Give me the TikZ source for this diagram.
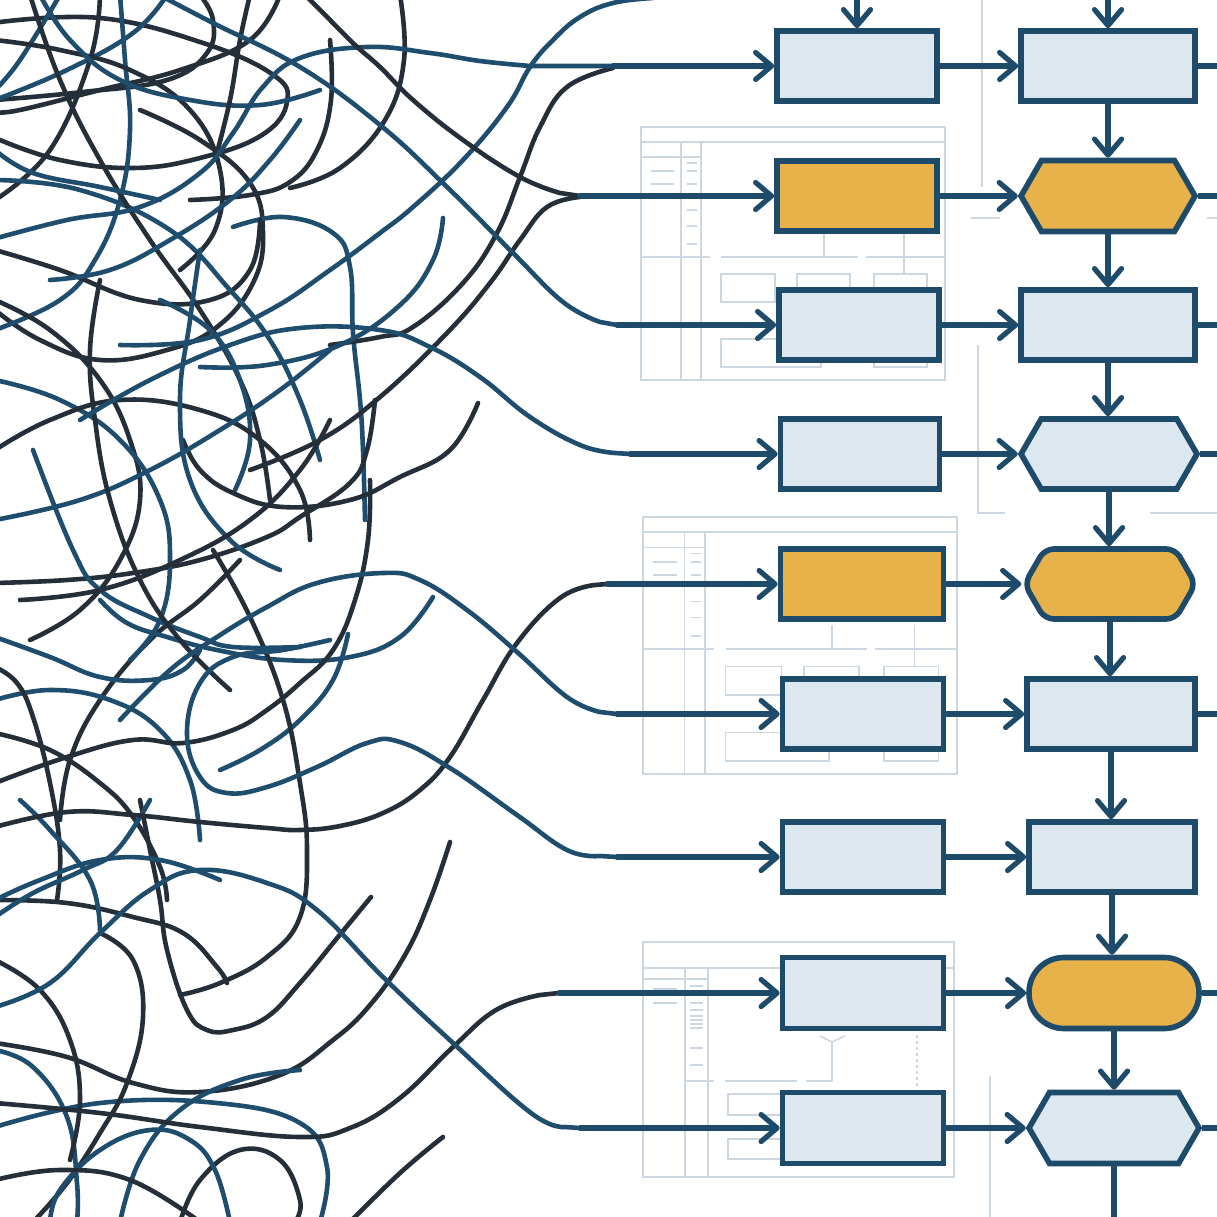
\documentclass[tikz,border=0pt]{standalone}
\usetikzlibrary{arrows.meta,shapes.symbols,shapes.misc}
\definecolor{navy}{HTML}{1F4B6A}
\definecolor{boxfill}{HTML}{DDE7F0}
\definecolor{gold}{HTML}{E8B24B}
\definecolor{tdark}{HTML}{252F39}
\definecolor{tblue}{HTML}{1F4D6D}
\definecolor{gridc}{HTML}{CCD7E1}
\tikzset{
 dk/.style={draw=tdark,line width=4.6pt,line cap=round,line join=round},
 nv/.style={draw=tblue,line width=4.6pt,line cap=round,line join=round},
 arr/.style={draw=navy,line width=5.2pt,line cap=round,-{Straight Barb[length=16pt,width=27pt,round]}},
 flow/.style={draw=navy,line width=5.2pt},
 lbox/.style={rectangle,draw=navy,line width=5.6pt,fill=boxfill,minimum width=160pt,minimum height=70pt,inner sep=0pt},
 obox/.style={lbox,fill=gold},
 hexa/.style={signal,signal to=east and west,signal pointer angle=120,draw=navy,line width=5.6pt,fill=boxfill,minimum width=174pt,minimum height=70pt,inner sep=0pt},
 gridl/.style={draw=gridc,line width=1.6pt},
}
\newcommand\tdk[1]{\draw[dk] plot[smooth,tension=.7] coordinates {#1};}
\newcommand\tnv[1]{\draw[nv] plot[smooth,tension=.7] coordinates {#1};}
\newcommand\formgridA{%
 \draw[gridl] (0,0) rectangle (304,253);
 \draw[gridl] (0,15) -- (304,15) (40,15) -- (40,253) (60,15) -- (60,253) (0,30) -- (60,30);
 \draw[gridl] (0,130) -- (69,130) (80,130) -- (217,130) (225,130) -- (304,130);
 \foreach \yy in {44,57} \draw[gridl] (10,\yy) -- (33,\yy);
 \foreach \yy in {36,44,57,83,99,117} \draw[gridl] (46,\yy) -- (56,\yy);
 \draw[gridl] (80,147) rectangle (134,175) (156,147) rectangle (209,175) (233,147) rectangle (286,175);
 \draw[gridl] (80,212) rectangle (180,240) (233,218) rectangle (286,240);
 \draw[gridl] (183,106) -- (183,130) (263,106) -- (263,147);
}
\begin{document}
\begin{tikzpicture}[x=1pt,y=-1pt]
\useasboundingbox (0,0) rectangle (1217,1217);
\fill[white] (0,0) rectangle (1217,1217);
\clip (0,0) rectangle (1217,1217);
% ---------- faint background forms ----------
\begin{scope}[shift={(641,127)}] \formgridA \end{scope}
\begin{scope}[shift={(643,517)},xscale=1.033,yscale=1.016] \formgridA \end{scope}
\draw[gridl] (643,942) rectangle (954,1177);
\draw[gridl] (643,968) -- (954,968) (685,968) -- (685,1177) (708,968) -- (708,1177) (643,979) -- (708,979);
\foreach \yy in {989,1003} \draw[gridl] (653,\yy) -- (677,\yy);
\foreach \yy in {986,1003,1010,1016,1020,1024,1028,1048,1065} \draw[gridl] (690,\yy) -- (703,\yy);
\draw[gridl] (686,1081) -- (714,1081) (725,1081) -- (797,1081) (806,1081) -- (832,1081);
\draw[gridl] (832,1081) -- (832,1042) -- (820,1036) (832,1042) -- (845,1036);
\draw[gridl,dashed] (917,1035) -- (917,1088);
\draw[gridl] (728,1094) rectangle (781,1115) (728,1139) rectangle (781,1159);
\draw[gridl] (982,0) -- (982,187) (971,218) -- (1000,218) (1207,218) -- (1217,218);
\draw[gridl] (978,345) -- (978,513) -- (1005,513) (1150,513) -- (1217,513);
\draw[gridl] (990,1076) -- (990,1217);
% ---------- tangle ----------
\tdk{(0,22) (100,18) (200,42) (272,74) (287,102) (262,135) (200,158) (133,168) (60,160) (0,140)}
\tdk{(-5,100) (83,92) (167,80) (207,53) (213,20) (200,-5)}
\tnv{(-5,100) (67,70) (133,33) (167,-5)}
\tdk{(140,110) (200,140) (250,183) (263,233) (253,283) (217,327) (167,350) (100,360) (40,340) (-5,310)}
\tnv{(233,227) (283,217) (333,233) (350,267) (353,333) (360,400) (363,450) (365,520)}
\tdk{(400,-5) (404,60) (385,120) (340,168) (290,188)}
\tdk{(330,40) (331,100) (317,150) (290,182) (250,195) (190,200)}
\tnv{(120,-5) (125,60) (130,130) (120,200) (95,260) (60,300) (-5,330)}
\tdk{(-5,200) (50,150) (90,60) (100,-5)}
\tnv{(60,-5) (20,60) (-5,90)}
\tdk{(-5,250) (60,270) (140,300) (210,300) (250,270) (260,220)}
\tnv{(-5,180) (80,190) (170,230) (230,290) (270,340) (300,400) (320,460)}
\tdk{(30,-5) (60,80) (100,160) (150,240) (200,310) (240,380) (260,440) (270,500)}
\tdk{(280,-5) (250,40) (180,70) (100,90) (20,110) (-5,112)}
\tdk{(-5,40) (60,50) (130,70) (190,110) (220,170) (215,230) (180,270)}
\tnv{(40,-5) (70,40) (120,80) (190,100) (260,105) (320,90)}
\tdk{(-5,300) (50,330) (100,380) (130,440) (140,500) (120,560) (80,610) (30,640)}
\tnv{(160,300) (210,330) (240,380) (250,440) (235,490)}
\tdk{(240,560) (200,600) (150,640) (100,700) (70,760) (60,820)}
\tnv{(-5,700) (50,690) (110,700) (160,730) (190,780) (200,840)}
\tdk{(250,-5) (240,40) (230,100) (215,160)}
\tnv{(300,120) (270,160) (230,200) (170,240) (110,270) (50,280)}
\tnv{(653,-2) (613,3) (580,17) (553,40) (530,67) (507,107) (463,160) (413,207) (380,233) (330,270) (270,310) (200,340) (120,345)}
\tdk{(613,68) (567,87) (540,127) (520,177) (497,233) (463,283) (413,327) (380,337) (330,345)}
\tdk{(580,197) (547,207) (520,240) (490,283) (447,333) (380,397) (320,440) (250,470)}
\tnv{(443,218) (433,260) (400,305) (340,345) (267,365) (200,367)}
\tdk{(478,403) (450,450) (400,477) (350,500) (283,507) (233,493) (200,470) (183,440)}
\tnv{(433,597) (400,637) (350,657) (283,660) (217,650) (167,637) (127,623) (100,600)}
\tnv{(348,634) (333,680) (300,720) (260,750) (220,770)}
\tdk{(450,842) (430,900) (405,955) (370,1005) (333,1040) (280,1075) (200,1092) (133,1083) (67,1057) (-5,1043)}
\tdk{(371,897) (338,937) (300,983) (267,1017) (233,1030) (207,1030) (187,1010) (167,950) (160,900) (150,850) (140,800)}
\tdk{(443,1137) (400,1173) (350,1222)}
\tnv{(-5,1127) (100,1103) (217,1103) (300,1123) (327,1167) (320,1222)}
\tdk{(370,480) (368,540) (355,600) (333,650) (300,683) (267,710) (233,730) (183,743) (133,740) (67,757) (-5,783)}
\tdk{(213,550) (250,617) (283,700) (300,783) (307,850) (300,917) (267,957) (220,983) (180,995)}
\tdk{(-5,583) (67,580) (133,573) (200,560) (267,537) (300,517) (350,483) (367,450) (375,400)}
\tnv{(-5,637) (50,657) (100,677) (150,680) (183,670) (200,650)}
\tnv{(33,450) (73,550) (100,590) (150,617) (200,637) (233,647) (300,647)}
\tdk{(-5,733) (50,750) (100,783) (133,817) (160,867) (167,900)}
\tdk{(-5,667) (17,683) (33,717) (50,783) (60,850) (57,900)}
\tdk{(-5,900) (67,903) (133,917) (183,933) (217,967) (227,983)}
\tdk{(100,933) (133,960) (143,1017) (127,1083) (100,1133) (67,1183) (33,1222)}
\tnv{(-5,1050) (33,1067) (67,1117) (77,1183) (77,1222)}
\tnv{(-5,380) (60,400) (120,440) (160,500) (170,560) (160,620) (130,660)}
\tdk{(-5,450) (50,420) (120,400) (200,410) (260,440) (300,490) (310,540)}
\tnv{(-5,520) (80,500) (150,470) (220,430) (280,390) (330,350)}
\tdk{(100,280) (90,350) (95,420) (110,500) (140,580) (180,640) (230,690)}
\tnv{(200,250) (190,320) (180,400) (190,480) (230,540) (280,570)}
\tdk{(330,420) (300,470) (250,520) (180,560) (100,590) (20,600)}
\tnv{(120,1222) (140,1160) (180,1110) (240,1080) (300,1070)}
\tdk{(180,1222) (200,1180) (240,1150) (280,1160) (300,1200) (295,1222)}
\tnv{(-5,900) (40,880) (100,860) (160,860) (220,880)}
\tdk{(-5,960) (40,990) (70,1040) (80,1100) (70,1160)}
\tnv{(230,1222) (215,1170) (190,1140) (150,1130) (100,1150) (60,1190) (50,1222)}
\tdk{(-5,1180) (60,1170) (130,1180) (200,1222)}
\tnv{(20,800) (50,830) (90,880) (100,930)}
\tnv{(-5,917) (33,893) (83,870) (117,850) (150,800)}
\tnv{(-5,150) (33,173) (100,187) (160,200)}
% ---------- nodes ----------
\node[lbox] (l1) at (857,66) {};
\node[obox] (l2) at (857,196) {};
\node[lbox] (l3) at (859,325) {};
\node[lbox,minimum width=159pt] (l4) at (860,454) {};
\node[obox,minimum width=163pt] (l5) at (862,584) {};
\node[lbox,minimum width=161pt] (l6) at (863,714) {};
\node[lbox,minimum width=161pt] (l7) at (863,857) {};
\node[lbox,minimum width=161pt,minimum height=71pt] (l8) at (863,993) {};
\node[lbox,minimum width=161pt,minimum height=71pt] (l9) at (863,1128) {};
\node[lbox,minimum width=174pt] (r1) at (1108,66) {};
\node[hexa,fill=gold,minimum height=71pt] (r2) at (1108,196) {};
\node[lbox,minimum width=174pt] (r3) at (1108,325) {};
\node[hexa,minimum width=176pt] (r4) at (1109,454) {};
\node[hexa,fill=gold,minimum width=171pt,rounded corners=9pt] (r5) at (1110,584) {};
\node[lbox,minimum width=168pt] (r6) at (1111,714) {};
\node[lbox,minimum width=166pt] (r7) at (1112,857) {};
\node[rectangle,draw=navy,line width=5.6pt,fill=gold,minimum width=170pt,minimum height=71pt,rounded corners=35pt,inner sep=0pt] (r8) at (1114,993) {};
\node[hexa,minimum width=170pt,minimum height=71pt] (r9) at (1114,1128) {};
% ---------- free ends ----------
\coordinate (t1) at (857,-6);
\coordinate (t2) at (1108,-6);
\coordinate (bt) at (1114,1224);
\foreach \i/\yy in {1/66,2/196,3/325,4/454,6/714,8/993,9/1128} \coordinate (e\i) at (1224,\yy);
\coordinate (j1) at (613,66);
\coordinate (j2) at (580,196);
\coordinate (j3) at (617,325);
\coordinate (j4) at (630,454);
\coordinate (j5) at (607,584);
\coordinate (j6) at (617,714);
\coordinate (j7) at (617,857);
\coordinate (j8) at (559,993);
\coordinate (j9) at (580,1128);
% ---------- connector curves into the flow ----------
\draw[nv] plot[smooth,tension=.7] coordinates {(-10,240) (67,220) (140,207) (200,173) (233,133) (262,88) (300,58) (367,47) (430,53) (480,61) (530,66)} -- (j1);
\draw[dk] plot[smooth,tension=.7] coordinates {(300,-10) (330,20) (355,45) (380,67) (413,100) (463,140) (520,177) (560,193)} -- (j2);
\draw[nv] plot[smooth,tension=.7] coordinates {(150,-10) (213,23) (300,67) (380,125) (447,187) (513,253) (563,302) (600,322)} -- (j3);
\draw[nv] plot[smooth,tension=.7] coordinates {(80,420) (150,380) (230,345) (300,328) (380,330) (430,347) (480,377) (530,417) (580,445) (615,453)} -- (j4);
\draw[dk] plot[smooth,tension=.7] coordinates {(-5,827) (67,812) (133,815) (200,822) (267,828) (300,830) (340,826) (383,813) (420,790) (450,757) (483,700) (517,643) (560,598) (595,585)} -- (j5);
\draw[nv] plot[smooth,tension=.7] coordinates {(120,720) (170,670) (217,637) (267,607) (317,583) (383,573) (420,580) (467,610) (517,652) (567,697) (600,712)} -- (j6);
\draw[nv] plot[smooth,tension=.7] coordinates {(330,640) (283,650) (233,657) (200,683) (187,733) (200,777) (227,793) (267,787) (317,767) (367,743) (400,742) (450,768) (517,815) (567,850) (600,856)} -- (j7);
\draw[dk] plot[smooth,tension=.7] coordinates {(-5,1103) (100,1113) (200,1127) (300,1137) (350,1128) (400,1098) (453,1047) (496,1010) (540,995)} -- (j8);
\draw[nv] plot[smooth,tension=.7] coordinates {(-5,1007) (50,983) (100,933) (150,890) (200,870) (267,883) (317,910) (383,977) (453,1043) (531,1113) (565,1127)} -- (j9);
\foreach \i in {1,...,9} \draw[arr] (j\i) -- (l\i.west);
% ---------- flow connectors ----------
\draw[arr] (t1) -- (l1.north);
\draw[arr] (t2) -- (r1.north);
\foreach \i in {1,...,9} \draw[arr] (l\i.east) -- (r\i.west);
\foreach \a/\b in {r1/r2,r2/r3,r3/r4,r4/r5,r5/r6,r6/r7,r7/r8,r8/r9} \draw[arr] (\a.south) -- (\a.south |- \b.north);
\draw[flow] (r9.south) -- (bt);
\foreach \i in {1,2,3,4,6,8,9} \draw[flow] (r\i.east) -- (e\i);
\end{tikzpicture}
\end{document}
